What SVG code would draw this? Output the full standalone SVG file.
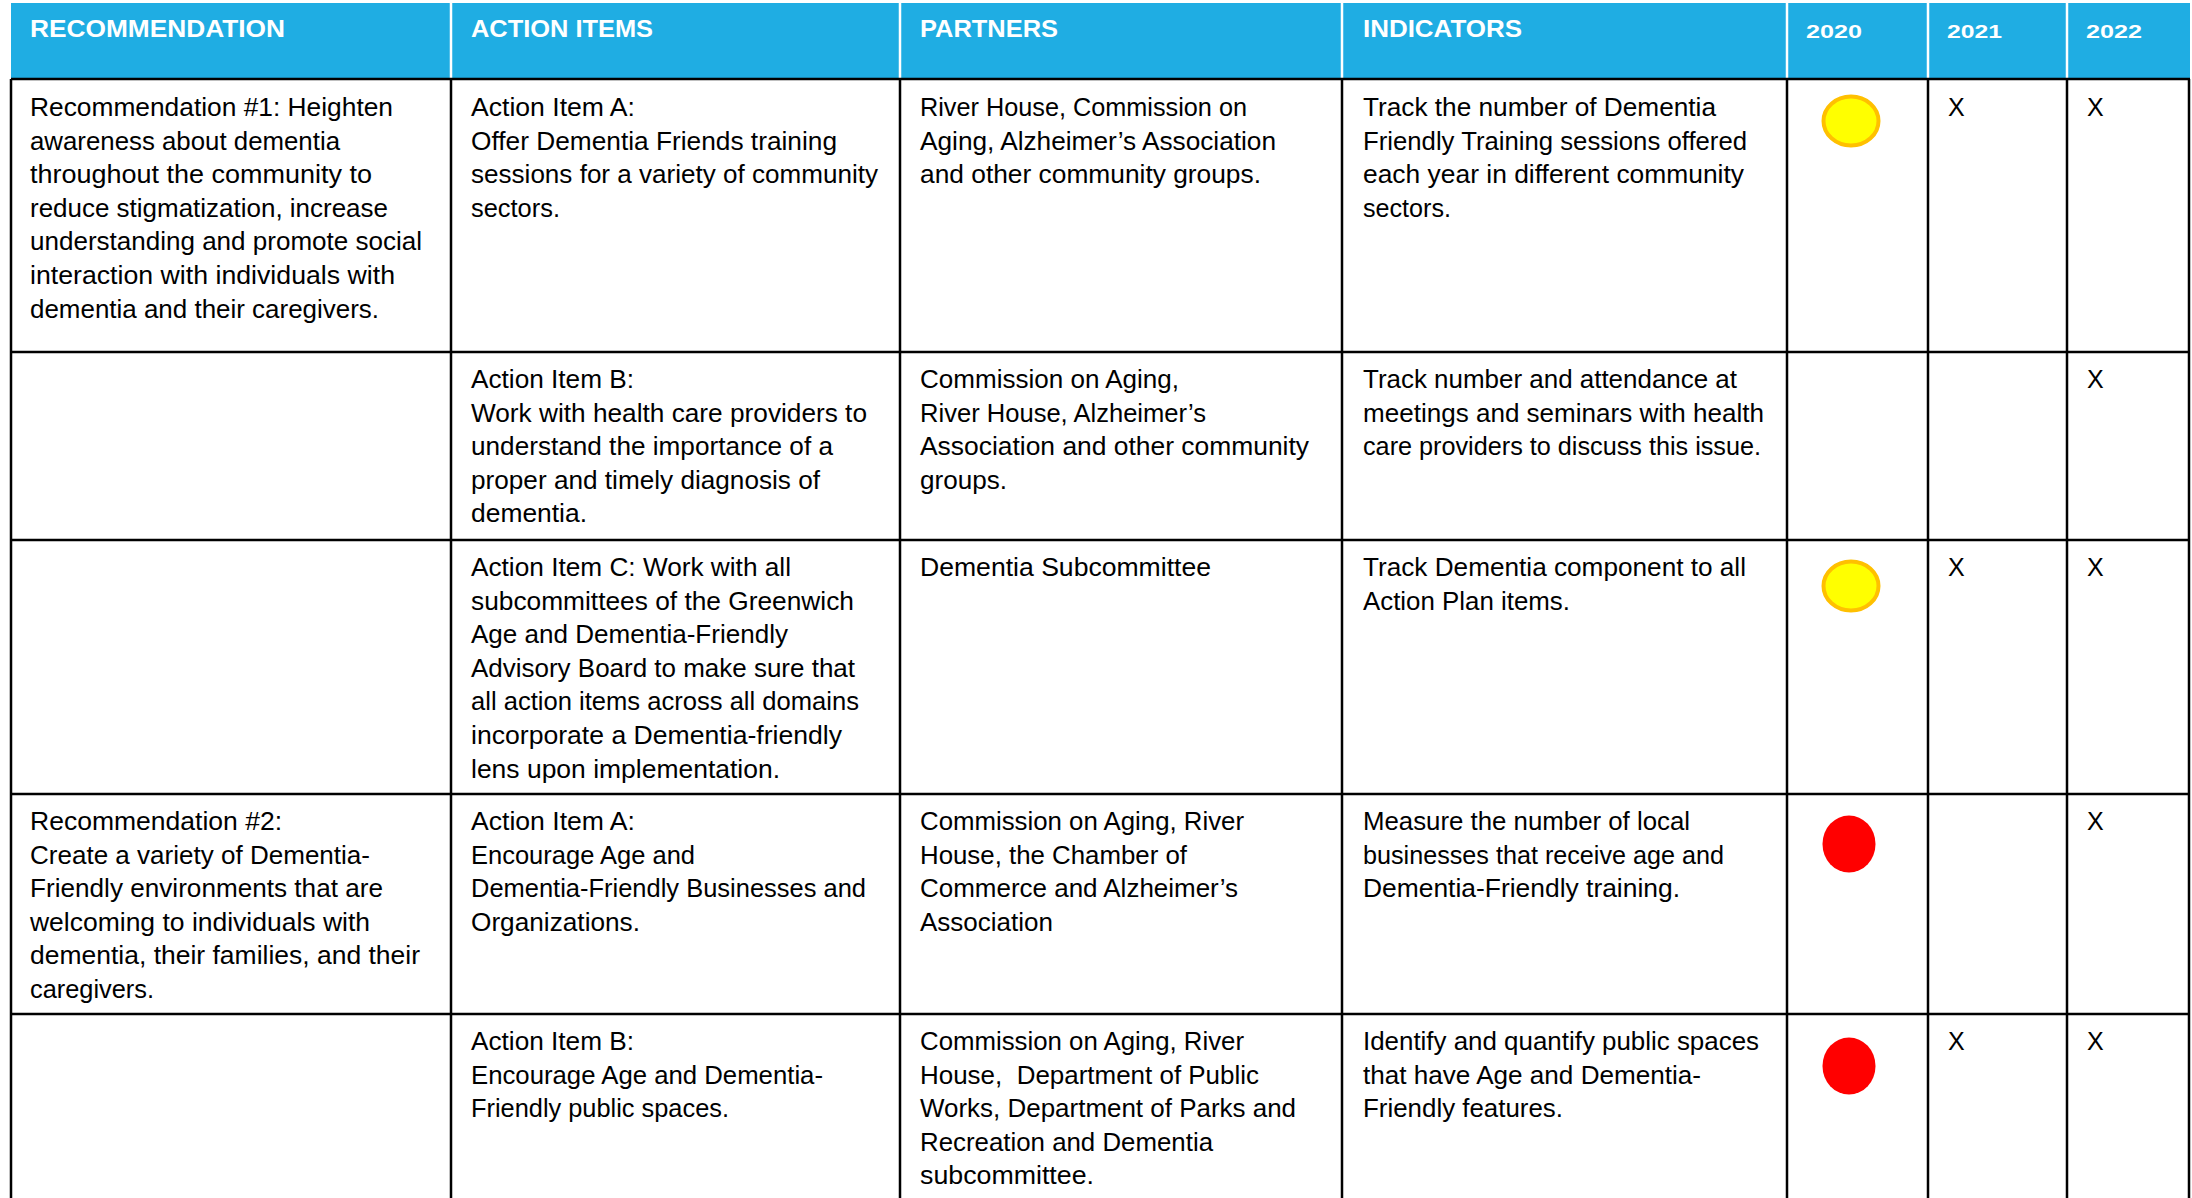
<svg xmlns="http://www.w3.org/2000/svg" width="2192" height="1198" viewBox="0 0 2192 1198">
<style>
.t{font-family:"Liberation Sans",Arial,sans-serif;font-size:25px;fill:#000}
.h{font-family:"Liberation Sans",Arial,sans-serif;font-size:24px;font-weight:bold;fill:#fff}
.y{font-family:"Liberation Sans",Arial,sans-serif;font-size:18px;font-weight:bold;fill:#fff}
.g{stroke:#000;stroke-width:2.5}
.w{stroke:#fff;stroke-width:2.5}
.yel{fill:#FFFF00;stroke:#FFC000;stroke-width:4}
.red{fill:#FF0000}
</style>
<rect x="0" y="0" width="2192" height="1198" fill="#fff"/>
<g id="header">
<rect x="11" y="3" width="2179" height="76" fill="#1FADE3"/>
<g class="w">
<line x1="451" y1="3" x2="451" y2="79"/><line x1="900" y1="3" x2="900" y2="79"/><line x1="1342" y1="3" x2="1342" y2="79"/><line x1="1787" y1="3" x2="1787" y2="79"/><line x1="1928" y1="3" x2="1928" y2="79"/><line x1="2067" y1="3" x2="2067" y2="79"/>
</g>
<text class="h" x="30" y="37" textLength="255" lengthAdjust="spacingAndGlyphs">RECOMMENDATION</text>
<text class="h" x="471" y="37" textLength="182" lengthAdjust="spacingAndGlyphs">ACTION ITEMS</text>
<text class="h" x="920" y="37" textLength="138" lengthAdjust="spacingAndGlyphs">PARTNERS</text>
<text class="h" x="1363" y="37" textLength="159" lengthAdjust="spacingAndGlyphs">INDICATORS</text>
<text class="y" x="1806" y="38" textLength="56" lengthAdjust="spacingAndGlyphs">2020</text>
<text class="y" x="1947" y="38" textLength="55" lengthAdjust="spacingAndGlyphs">2021</text>
<text class="y" x="2086" y="38" textLength="56" lengthAdjust="spacingAndGlyphs">2022</text>
</g>
<g id="grid" class="g">
<line x1="11" y1="79" x2="2190" y2="79"/>
<line x1="11" y1="352" x2="2190" y2="352"/>
<line x1="11" y1="540" x2="2190" y2="540"/>
<line x1="11" y1="794" x2="2190" y2="794"/>
<line x1="11" y1="1014" x2="2190" y2="1014"/>
<line x1="11" y1="79" x2="11" y2="1198"/>
<line x1="451" y1="79" x2="451" y2="1198"/>
<line x1="900" y1="79" x2="900" y2="1198"/>
<line x1="1342" y1="79" x2="1342" y2="1198"/>
<line x1="1787" y1="79" x2="1787" y2="1198"/>
<line x1="1928" y1="79" x2="1928" y2="1198"/>
<line x1="2067" y1="79" x2="2067" y2="1198"/>
<line x1="2189" y1="79" x2="2189" y2="1198"/>
</g>
<g id="row1">
<g id="r1-rec">
<text class="t" x="30" y="116" textLength="363" lengthAdjust="spacingAndGlyphs">Recommendation #1: Heighten</text>
<text class="t" x="30" y="149.6" textLength="310" lengthAdjust="spacingAndGlyphs">awareness about dementia</text>
<text class="t" x="30" y="183.2" textLength="342" lengthAdjust="spacingAndGlyphs">throughout the community to</text>
<text class="t" x="30" y="216.8" textLength="358" lengthAdjust="spacingAndGlyphs">reduce stigmatization, increase</text>
<text class="t" x="30" y="250.4" textLength="392" lengthAdjust="spacingAndGlyphs">understanding and promote social</text>
<text class="t" x="30" y="284" textLength="365" lengthAdjust="spacingAndGlyphs">interaction with individuals with</text>
<text class="t" x="30" y="317.6" textLength="349" lengthAdjust="spacingAndGlyphs">dementia and their caregivers.</text>
</g>
<g id="r1-act">
<text class="t" x="471" y="116" textLength="164" lengthAdjust="spacingAndGlyphs">Action Item A:</text>
<text class="t" x="471" y="149.6" textLength="366" lengthAdjust="spacingAndGlyphs">Offer Dementia Friends training</text>
<text class="t" x="471" y="183.2" textLength="407" lengthAdjust="spacingAndGlyphs">sessions for a variety of community</text>
<text class="t" x="471" y="216.8" textLength="89" lengthAdjust="spacingAndGlyphs">sectors.</text>
</g>
<g id="r1-par">
<text class="t" x="920" y="116" textLength="327" lengthAdjust="spacingAndGlyphs">River House, Commission on</text>
<text class="t" x="920" y="149.6" textLength="356" lengthAdjust="spacingAndGlyphs">Aging, Alzheimer’s Association</text>
<text class="t" x="920" y="183.2" textLength="341" lengthAdjust="spacingAndGlyphs">and other community groups.</text>
</g>
<g id="r1-ind">
<text class="t" x="1363" y="116" textLength="353" lengthAdjust="spacingAndGlyphs">Track the number of Dementia</text>
<text class="t" x="1363" y="149.6" textLength="384" lengthAdjust="spacingAndGlyphs">Friendly Training sessions offered</text>
<text class="t" x="1363" y="183.2" textLength="381" lengthAdjust="spacingAndGlyphs">each year in different community</text>
<text class="t" x="1363" y="216.8" textLength="88" lengthAdjust="spacingAndGlyphs">sectors.</text>
</g>
<g id="r1-status">
<ellipse class="yel" cx="1851" cy="121" rx="27.5" ry="24.5"/>
<text class="t" x="1948" y="116">X</text>
<text class="t" x="2087" y="116">X</text>
</g>
</g>
<g id="row2">
<g id="r2-act">
<text class="t" x="471" y="388" textLength="163" lengthAdjust="spacingAndGlyphs">Action Item B:</text>
<text class="t" x="471" y="421.6" textLength="396" lengthAdjust="spacingAndGlyphs">Work with health care providers to</text>
<text class="t" x="471" y="455.2" textLength="362" lengthAdjust="spacingAndGlyphs">understand the importance of a</text>
<text class="t" x="471" y="488.8" textLength="349" lengthAdjust="spacingAndGlyphs">proper and timely diagnosis of</text>
<text class="t" x="471" y="522.4" textLength="116" lengthAdjust="spacingAndGlyphs">dementia.</text>
</g>
<g id="r2-par">
<text class="t" x="920" y="388" textLength="259" lengthAdjust="spacingAndGlyphs">Commission on Aging,</text>
<text class="t" x="920" y="421.6" textLength="286" lengthAdjust="spacingAndGlyphs">River House, Alzheimer’s</text>
<text class="t" x="920" y="455.2" textLength="389" lengthAdjust="spacingAndGlyphs">Association and other community</text>
<text class="t" x="920" y="488.8" textLength="87" lengthAdjust="spacingAndGlyphs">groups.</text>
</g>
<g id="r2-ind">
<text class="t" x="1363" y="388" textLength="374" lengthAdjust="spacingAndGlyphs">Track number and attendance at</text>
<text class="t" x="1363" y="421.6" textLength="401" lengthAdjust="spacingAndGlyphs">meetings and seminars with health</text>
<text class="t" x="1363" y="455.2" textLength="398" lengthAdjust="spacingAndGlyphs">care providers to discuss this issue.</text>
</g>
<g id="r2-status">
<text class="t" x="2087" y="388">X</text>
</g>
</g>
<g id="row3">
<g id="r3-act">
<text class="t" x="471" y="576" textLength="320" lengthAdjust="spacingAndGlyphs">Action Item C: Work with all</text>
<text class="t" x="471" y="609.6" textLength="383" lengthAdjust="spacingAndGlyphs">subcommittees of the Greenwich</text>
<text class="t" x="471" y="643.2" textLength="317" lengthAdjust="spacingAndGlyphs">Age and Dementia-Friendly</text>
<text class="t" x="471" y="676.8" textLength="384" lengthAdjust="spacingAndGlyphs">Advisory Board to make sure that</text>
<text class="t" x="471" y="710.4" textLength="388" lengthAdjust="spacingAndGlyphs">all action items across all domains</text>
<text class="t" x="471" y="744" textLength="371" lengthAdjust="spacingAndGlyphs">incorporate a Dementia-friendly</text>
<text class="t" x="471" y="777.6" textLength="309" lengthAdjust="spacingAndGlyphs">lens upon implementation.</text>
</g>
<g id="r3-par">
<text class="t" x="920" y="576" textLength="291" lengthAdjust="spacingAndGlyphs">Dementia Subcommittee</text>
</g>
<g id="r3-ind">
<text class="t" x="1363" y="576" textLength="383" lengthAdjust="spacingAndGlyphs">Track Dementia component to all</text>
<text class="t" x="1363" y="609.6" textLength="207" lengthAdjust="spacingAndGlyphs">Action Plan items.</text>
</g>
<g id="r3-status">
<ellipse class="yel" cx="1851" cy="586" rx="27.5" ry="24.5"/>
<text class="t" x="1948" y="576">X</text>
<text class="t" x="2087" y="576">X</text>
</g>
</g>
<g id="row4">
<g id="r4-rec">
<text class="t" x="30" y="830" textLength="252" lengthAdjust="spacingAndGlyphs">Recommendation #2:</text>
<text class="t" x="30" y="863.6" textLength="340" lengthAdjust="spacingAndGlyphs">Create a variety of Dementia-</text>
<text class="t" x="30" y="897.2" textLength="353" lengthAdjust="spacingAndGlyphs">Friendly environments that are</text>
<text class="t" x="30" y="930.8" textLength="340" lengthAdjust="spacingAndGlyphs">welcoming to individuals with</text>
<text class="t" x="30" y="964.4" textLength="390" lengthAdjust="spacingAndGlyphs">dementia, their families, and their</text>
<text class="t" x="30" y="998" textLength="124" lengthAdjust="spacingAndGlyphs">caregivers.</text>
</g>
<g id="r4-act">
<text class="t" x="471" y="830" textLength="164" lengthAdjust="spacingAndGlyphs">Action Item A:</text>
<text class="t" x="471" y="863.6" textLength="224" lengthAdjust="spacingAndGlyphs">Encourage Age and</text>
<text class="t" x="471" y="897.2" textLength="395" lengthAdjust="spacingAndGlyphs">Dementia-Friendly Businesses and</text>
<text class="t" x="471" y="930.8" textLength="169" lengthAdjust="spacingAndGlyphs">Organizations.</text>
</g>
<g id="r4-par">
<text class="t" x="920" y="830" textLength="324" lengthAdjust="spacingAndGlyphs">Commission on Aging, River</text>
<text class="t" x="920" y="863.6" textLength="267" lengthAdjust="spacingAndGlyphs">House, the Chamber of</text>
<text class="t" x="920" y="897.2" textLength="318" lengthAdjust="spacingAndGlyphs">Commerce and Alzheimer’s</text>
<text class="t" x="920" y="930.8" textLength="133" lengthAdjust="spacingAndGlyphs">Association</text>
</g>
<g id="r4-ind">
<text class="t" x="1363" y="830" textLength="327" lengthAdjust="spacingAndGlyphs">Measure the number of local</text>
<text class="t" x="1363" y="863.6" textLength="361" lengthAdjust="spacingAndGlyphs">businesses that receive age and</text>
<text class="t" x="1363" y="897.2" textLength="317" lengthAdjust="spacingAndGlyphs">Dementia-Friendly training.</text>
</g>
<g id="r4-status">
<ellipse class="red" cx="1849" cy="844" rx="26.5" ry="28.5"/>
<text class="t" x="2087" y="830">X</text>
</g>
</g>
<g id="row5">
<g id="r5-act">
<text class="t" x="471" y="1050" textLength="163" lengthAdjust="spacingAndGlyphs">Action Item B:</text>
<text class="t" x="471" y="1083.6" textLength="352" lengthAdjust="spacingAndGlyphs">Encourage Age and Dementia-</text>
<text class="t" x="471" y="1117.2" textLength="258" lengthAdjust="spacingAndGlyphs">Friendly public spaces.</text>
</g>
<g id="r5-par">
<text class="t" x="920" y="1050" textLength="324" lengthAdjust="spacingAndGlyphs">Commission on Aging, River</text>
<text class="t" x="920" y="1083.6" textLength="339" lengthAdjust="spacingAndGlyphs" xml:space="preserve">House,  Department of Public</text>
<text class="t" x="920" y="1117.2" textLength="376" lengthAdjust="spacingAndGlyphs">Works, Department of Parks and</text>
<text class="t" x="920" y="1150.8" textLength="293" lengthAdjust="spacingAndGlyphs">Recreation and Dementia</text>
<text class="t" x="920" y="1184.4" textLength="174" lengthAdjust="spacingAndGlyphs">subcommittee.</text>
</g>
<g id="r5-ind">
<text class="t" x="1363" y="1050" textLength="396" lengthAdjust="spacingAndGlyphs">Identify and quantify public spaces</text>
<text class="t" x="1363" y="1083.6" textLength="338" lengthAdjust="spacingAndGlyphs">that have Age and Dementia-</text>
<text class="t" x="1363" y="1117.2" textLength="200" lengthAdjust="spacingAndGlyphs">Friendly features.</text>
</g>
<g id="r5-status">
<ellipse class="red" cx="1849" cy="1066" rx="26.5" ry="28.5"/>
<text class="t" x="1948" y="1050">X</text>
<text class="t" x="2087" y="1050">X</text>
</g>
</g>
</svg>
